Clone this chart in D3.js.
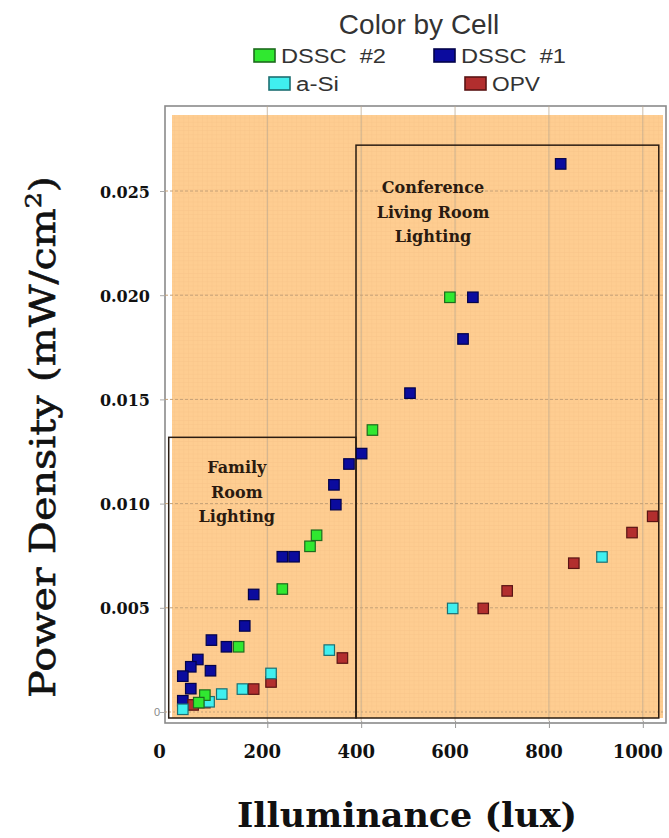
<!DOCTYPE html>
<html><head><meta charset="utf-8">
<script src="https://cdn.jsdelivr.net/npm/d3@7"></script>
<style>body{margin:0;background:#fff}svg{display:block}</style>
</head><body><svg id="c" width="669" height="838"></svg>
<script>
// ---- data ----
const xTickValues = [0, 200, 400, 600, 800, 1000];
const yTickValues = [0.005, 0.010, 0.015, 0.020, 0.025];
const cellNames = ["DSSC #2", "DSSC #1", "a-Si", "OPV"];

const dssc1Lux   = [825, 638, 617, 504, 401, 374, 342, 346, 232, 257, 171, 152, 81, 113, 52, 37, 20, 79, 37, 20];
const dssc1Power = [0.0263, 0.0199, 0.0179, 0.0153, 0.0124, 0.0119, 0.0109, 0.00995, 0.00745, 0.00745, 0.00564, 0.00413, 0.00345, 0.00313, 0.00252, 0.00217, 0.00172, 0.00198, 0.00112, 0.00054];

const dssc2Lux   = [589, 424, 305, 291, 232, 139, 67, 54];
const dssc2Power = [0.0199, 0.01353, 0.00848, 0.00795, 0.0059, 0.00313, 0.00081, 0.00045];

const aSiLux   = [913, 595, 332, 208, 147, 103, 76, 20];
const aSiPower = [0.00744, 0.00497, 0.00297, 0.00185, 0.0011, 0.00086, 0.00049, 0.00013];

const opvLux   = [1021, 977, 853, 711, 660, 360, 208, 171, 67, 42];
const opvPower = [0.00939, 0.00861, 0.00714, 0.00581, 0.00497, 0.00259, 0.00144, 0.0011, 0.00045, 0.00034];

// lighting regions: [luxStart, luxEnd, powerTop]
const familyRegion     = [-10, 389, 0.01318];
const conferenceRegion = [389, 1034, 0.0272];
const familyLabel     = ["Family", "Room", "Lighting"];
const conferenceLabel = ["Conference", "Living Room", "Lighting"];

// ---- layout ----
const svg = d3.select("#c");
const P = {left: 172, right: 663, top: 115, bottom: 718};
const x = d3.scaleLinear().domain([-3, 1043]).range([P.left, P.right]);
const y = d3.scaleLinear().domain([-0.000288, 0.028647]).range([P.bottom, P.top]);

const colors = {
  "DSSC #2": {fill: "#30e830", stroke: "#1d6b1d"},
  "DSSC #1": {fill: "#0b0b9e", stroke: "#03034a"},
  "a-Si":    {fill: "#40efef", stroke: "#1d6f72"},
  "OPV":     {fill: "#b22e2e", stroke: "#5a1414"}
};

// pattern for the fine graph-paper texture
const defs = svg.append("defs");
const pat = defs.append("pattern").attr("id", "grid").attr("width", 4.7).attr("height", 4.2)
  .attr("patternUnits", "userSpaceOnUse");
pat.append("rect").attr("width", 4.7).attr("height", 4.2).attr("fill", "#fecd91");
pat.append("path").attr("d", "M0,0.25H4.7M0.25,0V4.2").attr("stroke", "#f7c589").attr("stroke-width", 0.6);

// outer frame
svg.append("rect").attr("x", 165).attr("y", 106).attr("width", 501).attr("height", 617)
  .attr("fill", "#fff").attr("stroke", "#8a8a8a").attr("stroke-width", 1.6);

// plot background
svg.append("rect").attr("x", P.left).attr("y", P.top).attr("width", P.right - P.left)
  .attr("height", P.bottom - P.top).attr("fill", "url(#grid)");

// vertical gridlines
svg.append("g").selectAll("line").data(xTickValues.slice(1)).join("line")
  .attr("x1", d => x(d)).attr("x2", d => x(d)).attr("y1", 106).attr("y2", 721)
  .attr("stroke", "#bca98f").attr("stroke-width", 1).attr("opacity", 0.75);

// horizontal gridlines
svg.append("g").selectAll("line").data(yTickValues).join("line")
  .attr("x1", 165).attr("x2", 666).attr("y1", d => y(d)).attr("y2", d => y(d))
  .attr("stroke", "#c4a077").attr("stroke-width", 1).attr("stroke-dasharray", "3,2");
svg.append("line").attr("x1", 165).attr("x2", 666).attr("y1", y(0)).attr("y2", y(0))
  .attr("stroke", "#c4a077").attr("stroke-width", 1).attr("stroke-dasharray", "2,2");

// small original axes (ticks)
const xAxis = svg.append("g").attr("transform", "translate(0,721)")
  .call(d3.axisBottom(x).tickValues(xTickValues.slice(1)).tickSize(7).tickFormat(""));
xAxis.select(".domain").remove();
xAxis.selectAll("line").attr("stroke", "#999");
const yAxis = svg.append("g").attr("transform", "translate(165,0)")
  .call(d3.axisLeft(y).tickValues([0].concat(yTickValues)).tickSize(5)
    .tickFormat(d => d === 0 ? "0" : ""));
yAxis.select(".domain").remove();
yAxis.selectAll("line").attr("stroke", "#aaa");
yAxis.selectAll("text").attr("font-family", "Liberation Sans, Arial, sans-serif")
  .attr("font-size", 11).attr("fill", "#888").attr("dx", 3);

// lighting region boxes
[familyRegion, conferenceRegion].forEach(r => {
  svg.append("rect").attr("x", x(r[0])).attr("y", y(r[2]))
    .attr("width", x(r[1]) - x(r[0])).attr("height", P.bottom - y(r[2]))
    .attr("fill", "none").attr("stroke", "#2a1c12").attr("stroke-width", 1.5);
});

// region labels
function regionText(lines, cx, y0) {
  svg.append("g").selectAll("text").data(lines).join("text")
    .attr("x", cx).attr("y", (d, i) => y0 + i * 24.5)
    .attr("text-anchor", "middle")
    .attr("font-family", "DejaVu Serif, serif").attr("font-weight", "bold")
    .attr("font-size", 16).attr("fill", "#2a1a10").text(d => d);
}
regionText(familyLabel, x(135), y(0.01145));
regionText(conferenceLabel, x(553), y(0.0249));

// markers
const S = 10.5;
function plotSeries(luxArr, powArr, name) {
  const c = colors[name];
  svg.append("g").selectAll("rect").data(luxArr.map((v, i) => [v, powArr[i]])).join("rect")
    .attr("x", d => x(d[0]) - S / 2).attr("y", d => y(d[1]) - S / 2)
    .attr("width", S).attr("height", S)
    .attr("fill", c.fill).attr("stroke", c.stroke).attr("stroke-width", 1.2);
}
plotSeries(dssc1Lux, dssc1Power, "DSSC #1");
plotSeries(opvLux, opvPower, "OPV");
plotSeries(aSiLux, aSiPower, "a-Si");
plotSeries(dssc2Lux, dssc2Power, "DSSC #2");

// bold tick labels
svg.append("g").selectAll("text").data(xTickValues).join("text")
  .attr("x", d => x(d) + (d === 0 ? -14 : -5)).attr("y", 758)
  .attr("text-anchor", "middle")
  .attr("font-family", "DejaVu Serif, serif").attr("font-weight", "bold")
  .attr("font-size", 18).attr("fill", "#111").text(d => d);
svg.append("g").selectAll("text").data(yTickValues).join("text")
  .attr("x", 150).attr("y", d => y(d) + 2)
  .attr("text-anchor", "end").attr("dominant-baseline", "middle")
  .attr("font-family", "DejaVu Serif, serif").attr("font-weight", "bold")
  .attr("font-size", 16).attr("fill", "#111").text(d => d.toFixed(3));

// axis titles
svg.append("text").attr("x", 407).attr("y", 827).attr("text-anchor", "middle")
  .attr("font-family", "DejaVu Serif, serif").attr("font-weight", "bold")
  .attr("font-size", 34).attr("fill", "#111")
  .attr("textLength", 340).attr("lengthAdjust", "spacingAndGlyphs")
  .text("Illuminance (lux)");

const yt = svg.append("text").attr("transform", "translate(55,437) rotate(-90)")
  .attr("text-anchor", "middle")
  .attr("font-family", "DejaVu Serif, serif").attr("font-size", 36).attr("fill", "#111")
  .attr("stroke", "#111").attr("stroke-width", 0.6)
  .attr("textLength", 522).attr("lengthAdjust", "spacingAndGlyphs");
yt.append("tspan").text("Power Density (mW/cm");
yt.append("tspan").attr("dy", -14).attr("font-size", 22).text("2");
yt.append("tspan").attr("dy", 14).text(")");

// legend
svg.append("text").attr("x", 419).attr("y", 34).attr("text-anchor", "middle")
  .attr("font-family", "Liberation Sans, Arial, sans-serif").attr("font-size", 28)
  .attr("fill", "#333").text("Color by Cell");

const legendItems = [
  {name: cellNames[0], label: "DSSC\u00a0 #2", sx: 254, sy: 49, tl: 105},
  {name: cellNames[1], label: "DSSC\u00a0 #1", sx: 434, sy: 49, tl: 105},
  {name: cellNames[2], label: "a-Si", sx: 269, sy: 77, tl: 43},
  {name: cellNames[3], label: "OPV", sx: 465, sy: 77, tl: 48}
];
const lg = svg.append("g").selectAll("g").data(legendItems).join("g");
lg.append("rect").attr("x", d => d.sx).attr("y", d => d.sy).attr("width", 21).attr("height", 13)
  .attr("fill", d => colors[d.name].fill).attr("stroke", d => colors[d.name].stroke).attr("stroke-width", 1.6);
lg.append("text").attr("x", d => d.sx + 27).attr("y", d => d.sy + 14)
  .attr("font-family", "Liberation Sans, Arial, sans-serif").attr("font-size", 20)
  .attr("fill", "#333").attr("textLength", d => d.tl).attr("lengthAdjust", "spacingAndGlyphs")
  .text(d => d.label);
</script>
</body></html>
